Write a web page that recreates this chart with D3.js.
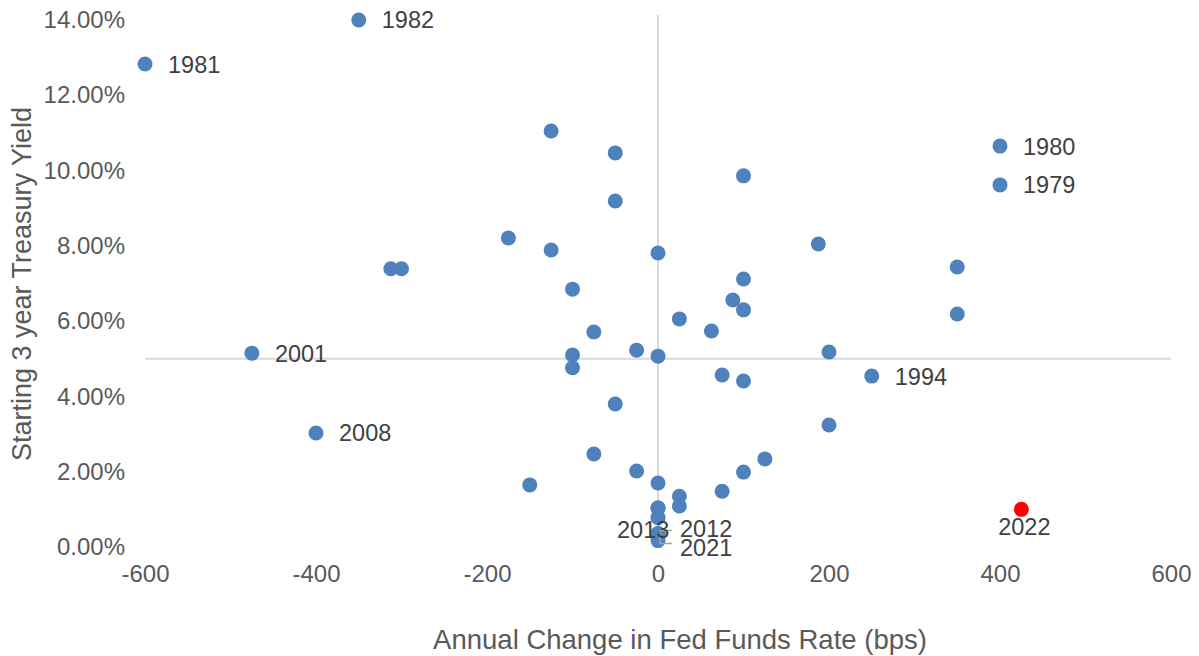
<!DOCTYPE html>
<html>
<head>
<meta charset="utf-8">
<script src="https://cdn.jsdelivr.net/npm/d3@7"></script>
<style>
  html, body { margin: 0; padding: 0; background: #fff; }
  svg { display: block; font-family: "Liberation Sans", Arial, sans-serif; }
</style>
</head>
<body>
<svg id="chart" width="1199" height="656"></svg>
<script>
// Annual change in Fed Funds rate (bps)
const fedChange = [-350, -600, 400, 400, -125, -50, 100, -50, -175, -125, 0, 187.5, -312.5, -300, 350, 100, -100, 87.5, 100, 350, 25, 62.5, -75, -475, -25, -100, 0, 200, -100, 75, 100, 250, -50, -400, 200, -75, 125, -25, 100, -150, 0, 75, 25, 25, 0, 0, 0, 0, 0, 0, 425];
// Starting 3 year Treasury yield (%)
const startYield = [14.00, 12.83, 10.65, 9.62, 11.05, 10.47, 9.86, 9.19, 8.21, 7.89, 7.81, 8.05, 7.39, 7.39, 7.44, 7.12, 6.85, 6.56, 6.30, 6.19, 6.06, 5.74, 5.71, 5.15, 5.23, 5.10, 5.07, 5.18, 4.76, 4.57, 4.41, 4.54, 3.80, 3.03, 3.24, 2.47, 2.34, 2.02, 1.99, 1.65, 1.70, 1.48, 1.35, 1.09, 1.04, 1.02, 0.78, 0.36, 0.35, 0.17, 1.00];
// Year labels (blank = unlabelled)
const yearLabel = ["1982", "1981", "1980", "1979", "", "", "", "", "", "", "", "", "", "", "", "", "", "", "", "", "", "", "", "2001", "", "", "", "", "", "", "", "1994", "", "2008", "", "", "", "", "", "", "", "", "", "", "", "", "", "2012", "2013", "2021", "2022"];
const highlightYear = "2022";

const xTicks = [-600, -400, -200, 0, 200, 400, 600];
const yTicks = [0, 2, 4, 6, 8, 10, 12, 14];
const xTitle = "Annual Change in Fed Funds Rate (bps)";
const yTitle = "Starting 3 year Treasury Yield";

const svg = d3.select("#chart");
const x = d3.scaleLinear().domain([-600, 600]).range([145, 1171]);
const y = d3.scaleLinear().domain([0, 14]).range([547, 20]);

const tickColor = "#595959";
const labelColor = "#404040";
const tickFs = 24;
const labelFs = 23.5;
const titleFs = 27.5;

// axis lines (cross at x=0 and y=5%)
svg.append("line")
  .attr("x1", x(0)).attr("x2", x(0))
  .attr("y1", y(14) - 5).attr("y2", y(0))
  .attr("stroke", "#d9d9d9").attr("stroke-width", 2);
svg.append("line")
  .attr("x1", x(-600)).attr("x2", x(600))
  .attr("y1", y(5)).attr("y2", y(5))
  .attr("stroke", "#d9d9d9").attr("stroke-width", 2);

// Y tick labels
const yAxis = d3.axisLeft(y).tickValues(yTicks).tickSize(0).tickPadding(0)
  .tickFormat(d => d3.format(".2f")(d) + "%");
const gy = svg.append("g").attr("transform", `translate(${125},0)`).call(yAxis);
gy.select(".domain").remove();
gy.selectAll("text").attr("fill", tickColor).style("font-size", tickFs + "px")
  .style("font-family", "'Liberation Sans', Arial, sans-serif");

// X tick labels (plain hyphen minus as in the reference)
const xAxis = d3.axisBottom(x).tickValues(xTicks).tickSize(0).tickPadding(0)
  .tickFormat(d => String(d));
const gx = svg.append("g").attr("transform", `translate(0,${565})`).call(xAxis);
gx.select(".domain").remove();
gx.selectAll("text").attr("fill", tickColor).style("font-size", tickFs + "px")
  .style("font-family", "'Liberation Sans', Arial, sans-serif");

// Axis titles
svg.append("text")
  .attr("x", 680).attr("y", 649)
  .attr("text-anchor", "middle")
  .attr("fill", tickColor).style("font-size", titleFs + "px")
  .text(xTitle);
svg.append("text")
  .attr("transform", `translate(31,284) rotate(-90)`)
  .attr("text-anchor", "middle")
  .attr("fill", tickColor).style("font-size", 27 + "px")
  .text(yTitle);

const pts = fedChange.map((v, i) => ({ x: v, y: startYield[i], label: yearLabel[i] }));

// Points
svg.append("g").selectAll("circle")
  .data(pts)
  .join("circle")
  .attr("cx", d => x(d.x))
  .attr("cy", d => y(d.y))
  .attr("r", 7.5)
  .attr("fill", d => d.label === highlightYear ? "#ff0000" : "#4f81bd");

// Leader lines for crowded labels
const leader = {
  "2012": (px, py) => `M${px + 14},${py - 3}H${px + 2}`,
  "2021": (px, py) => `M${px + 14},${py + 3}H${px + 2}V${py - 8}`
};
svg.append("g").selectAll("path")
  .data(pts.filter(d => leader[d.label]))
  .join("path")
  .attr("d", d => leader[d.label](x(d.x), y(d.y)))
  .attr("fill", "none").attr("stroke", "#a6a6a6").attr("stroke-width", 1.5);

// Data labels
const placement = {
  "2013": { dx: -41, dy: -4, anchor: "start" },
  "2012": { dx: 22, dy: -5, anchor: "start" },
  "2021": { dx: 22, dy: 7, anchor: "start" },
  "2022": { dx: 3, dy: 17, anchor: "middle" }
};
svg.append("g").selectAll("text")
  .data(pts.filter(d => d.label))
  .join("text")
  .attr("x", d => x(d.x) + (placement[d.label] ? placement[d.label].dx : 23))
  .attr("y", d => y(d.y) + (placement[d.label] ? placement[d.label].dy : 0))
  .attr("dy", "0.36em")
  .attr("text-anchor", d => placement[d.label] ? placement[d.label].anchor : "start")
  .attr("fill", labelColor).style("font-size", labelFs + "px")
  .text(d => d.label);
</script>
</body>
</html>
